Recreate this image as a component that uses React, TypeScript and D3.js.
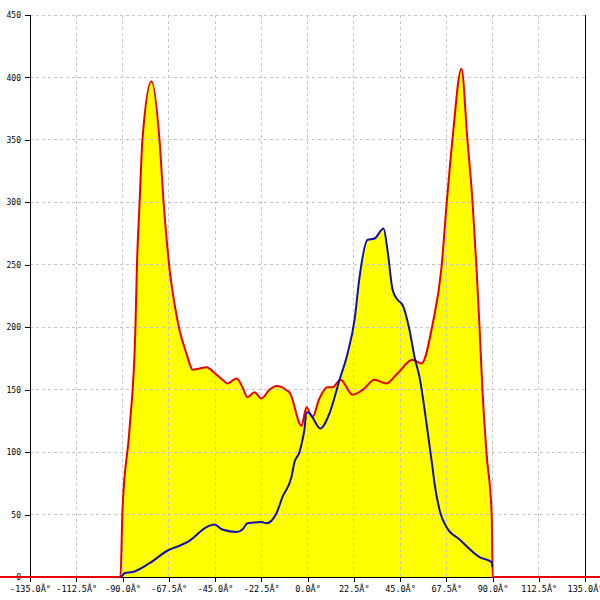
import React, { FC, useEffect, useRef } from "react"
import { area, axisBottom, axisLeft, curveMonotoneX, line, range, scaleLinear, select } from "d3"

type P = [number, number]

// red series (angle in degrees, value)
const redSeries: P[] = [
  [-150, 0], [-91, 0], [-90, 54], [-86.6, 118], [-83.7, 200], [-83, 248],
  [-81.7, 299], [-80.3, 350], [-75.9, 397], [-72, 350], [-70, 300],
  [-67.2, 248], [-64.2, 214], [-62.3, 198], [-58.9, 179], [-57.4, 171],
  [-55.9, 166], [-52.5, 167], [-49.1, 168], [-45, 163], [-41.4, 158],
  [-39, 155], [-34.5, 159], [-31.6, 152], [-29.2, 144], [-25.8, 148],
  [-22.4, 143], [-18.5, 150], [-15.1, 153], [-12.5, 152], [-9.7, 149],
  [-8.8, 148], [-2.9, 121], [-0.5, 136], [2.4, 128], [5.8, 143],
  [9.7, 152], [12.2, 152], [16.1, 158], [21.9, 146], [27, 150],
  [32.6, 158], [38.4, 155], [43.8, 163], [51.1, 174], [55.5, 171],
  [60.8, 202], [65.2, 248], [67.6, 297], [70.5, 350], [74.9, 407],
  [77.8, 350], [80.3, 300], [82.2, 248], [83.7, 200], [85.1, 150],
  [87.1, 99], [89.6, 50], [90.1, 0], [150, 0],
]

// blue series
const blueSeries: P[] = [
  [-90.5, 0], [-89, 3], [-85, 4], [-76.9, 11], [-67.1, 22], [-62.3, 25],
  [-57.4, 29], [-49.1, 40], [-45.2, 42], [-41.4, 38], [-34.5, 36],
  [-31.6, 38], [-29.2, 43], [-22.4, 44], [-19.9, 43], [-15.1, 51],
  [-12.2, 64], [-7.8, 80], [-6.3, 92], [-3.9, 100], [-2.4, 110],
  [-1.5, 118], [-0.5, 132], [1, 131], [6.3, 119], [10.7, 131],
  [15.6, 158], [19.5, 179], [22.9, 206], [25.3, 240], [29.2, 270],
  [32.6, 271], [37, 279], [38.9, 262], [41.4, 230], [43.8, 222],
  [46.2, 218], [49.6, 198], [52.1, 176], [54.5, 160], [57.9, 123],
  [60.8, 88], [61.8, 75], [64.5, 52], [67.6, 40], [74, 30], [83.7, 16],
  [89.5, 12], [90, 8],
]

// ticks
const xTicks = range(-135, 135.1, 22.5)
const yTicks = range(0, 451, 50)

const App: FC = () => {
  const wrapperRef = useRef<HTMLDivElement>(null)

  useEffect(() => {
    document.body.style.margin = "0"
    const root = select(wrapperRef.current)
    root.selectAll("*").remove()

    const width = 600
    const height = 600
    const margins = { top: 15, right: 15, bottom: 23, left: 30 }

    const svg = root
      .append("svg")
      .attr("width", width)
      .attr("height", height)
      .style("display", "block")
      .style("background", "#fff")

    const xScale = scaleLinear().domain([-135, 135]).range([margins.left, width - margins.right])
    const yScale = scaleLinear().domain([0, 450]).range([height - margins.bottom, margins.top])

    // fills
    const areaGenerator = area<P>()
      .x((d) => xScale(d[0]))
      .y0(yScale(0))
      .y1((d) => yScale(d[1]))
      .curve(curveMonotoneX)
    svg.append("path").attr("d", areaGenerator(redSeries)).attr("fill", "#ffff00")
    svg.append("path").attr("d", areaGenerator(blueSeries)).attr("fill", "#ffff00")

    // grid
    const grid = svg
      .append("g")
      .attr("stroke", "#c4c4c4")
      .attr("stroke-dasharray", "3,3")
      .attr("shape-rendering", "crispEdges")
    grid
      .selectAll("line.v")
      .data(xTicks.slice(1, -1))
      .join("line")
      .attr("x1", (d) => xScale(d))
      .attr("x2", (d) => xScale(d))
      .attr("y1", yScale(450))
      .attr("y2", yScale(0))
    grid
      .selectAll("line.h")
      .data(yTicks.slice(1))
      .join("line")
      .attr("class", "h")
      .attr("x1", xScale(-135))
      .attr("x2", xScale(135))
      .attr("y1", (d) => yScale(d))
      .attr("y2", (d) => yScale(d))

    // right border
    svg
      .append("line")
      .attr("x1", xScale(135))
      .attr("x2", xScale(135))
      .attr("y1", yScale(450))
      .attr("y2", yScale(0))
      .attr("stroke", "#000")
      .attr("shape-rendering", "crispEdges")

    // y axis
    const yAxis = svg
      .append("g")
      .attr("transform", `translate(${margins.left},0)`)
      .attr("shape-rendering", "crispEdges")
      .call(axisLeft(yScale).tickValues(yTicks).tickSize(5).tickPadding(4))
    yAxis.select(".domain").attr("stroke", "#000")
    yAxis
      .selectAll("text")
      .attr("font-family", "DejaVu Sans Mono")
      .attr("font-size", 8)
      .attr("fill", "#000")

    // x axis
    const xAxis = svg
      .append("g")
      .attr("transform", `translate(0,${yScale(0)})`)
      .attr("shape-rendering", "crispEdges")
      .call(
        axisBottom(xScale)
          .tickValues(xTicks)
          .tickSize(5)
          .tickPadding(4)
          .tickFormat((d) => `${(+d).toFixed(1)}Â°`),
      )
    xAxis.select(".domain").attr("stroke", "#000")
    xAxis
      .selectAll("text")
      .attr("font-family", "DejaVu Sans Mono")
      .attr("font-size", 8.5)
      .attr("fill", "#000")

    // lines
    const lineGenerator = line<P>()
      .x((d) => xScale(d[0]))
      .y((d) => yScale(d[1]))
      .curve(curveMonotoneX)
    svg
      .append("path")
      .attr("d", lineGenerator(redSeries))
      .attr("fill", "none")
      .attr("stroke", "#e60000")
      .attr("stroke-width", 2)
    svg
      .append("path")
      .attr("d", lineGenerator(blueSeries))
      .attr("fill", "none")
      .attr("stroke", "#1010b0")
      .attr("stroke-width", 2)
  }, [])

  return <div ref={wrapperRef} />
}

export default App
